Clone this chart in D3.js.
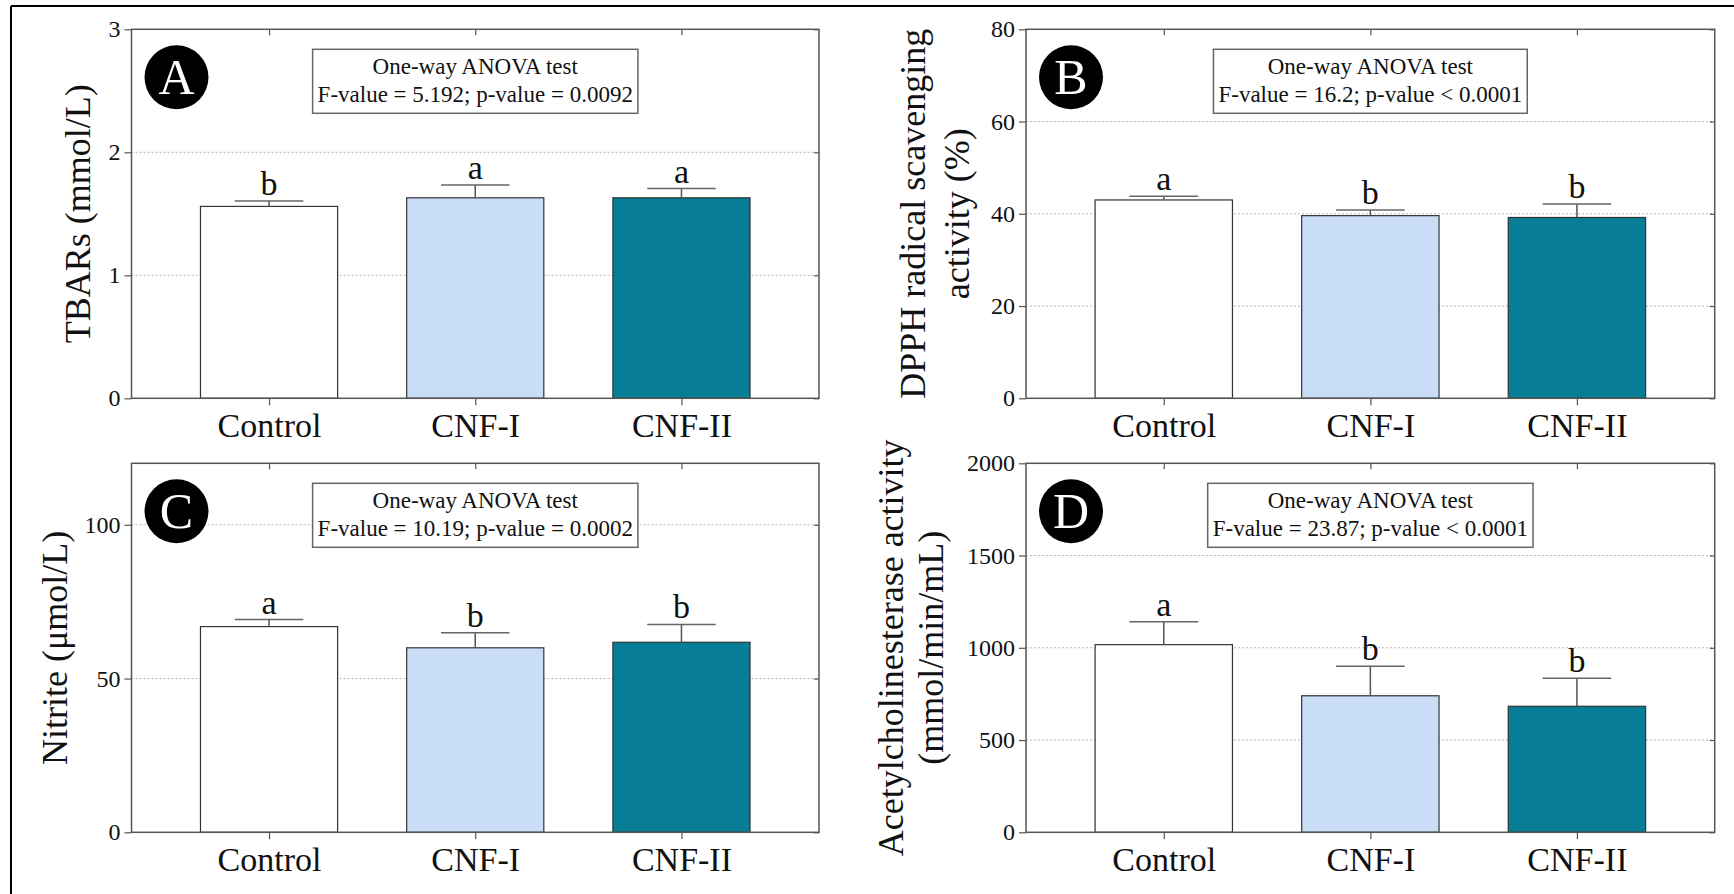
<!DOCTYPE html>
<html>
<head>
<meta charset="utf-8">
<script src="https://cdn.jsdelivr.net/npm/d3@7"></script>
<style>
  body { margin: 0; background: #fff; }
  text { font-family: "Liberation Serif", "DejaVu Serif", serif; fill: #111; }
</style>
</head>
<body>
<script>
// groups on the x axis
const groups = ['Control', 'CNF-I', 'CNF-II'];
const fills = ['#ffffff', '#c9ddf6', '#077d96'];

// panel A - TBARs
const tbarsMean = [1.56, 1.63, 1.63];
const tbarsSd = [0.045, 0.105, 0.075];
const tbarsLetters = ['b', 'a', 'a'];
const tbarsTicks = [0, 1, 2, 3];

// panel B - DPPH
const dpphMean = [43.0, 39.6, 39.2];
const dpphSd = [0.8, 1.2, 2.9];
const dpphLetters = ['a', 'b', 'b'];
const dpphTicks = [0, 20, 40, 60, 80];

// panel C - nitrite
const nitriteMean = [66.9, 60.0, 61.8];
const nitriteSd = [2.3, 4.9, 5.8];
const nitriteLetters = ['a', 'b', 'b'];
const nitriteTicks = [0, 50, 100];

// panel D - AChE
const acheMean = [1017, 740, 683];
const acheSd = [124, 160, 152];
const acheLetters = ['a', 'b', 'b'];
const acheTicks = [0, 500, 1000, 1500, 2000];

const serif = '"Liberation Serif", "DejaVu Serif", serif';

const svg = d3.select('body').append('svg')
    .attr('width', 1734)
    .attr('height', 894);

// outer frame (only top and left edges show in the picture)
svg.append('line').attr('x1', 11).attr('y1', 6).attr('x2', 1734).attr('y2', 6)
    .attr('stroke', '#000').attr('stroke-width', 2);
svg.append('line').attr('x1', 11).attr('y1', 6).attr('x2', 11).attr('y2', 894)
    .attr('stroke', '#000').attr('stroke-width', 2);

const panels = [
    { tag: 'A', mean: tbarsMean, sd: tbarsSd, letters: tbarsLetters, ticks: tbarsTicks, max: 3,
      title: ['TBARs (mmol/L)'], titleX: [42], stat: 'F-value = 5.192; p-value = 0.0092',
      left: 131.5, right: 819, top: 29.3, bottom: 398.3 },
    { tag: 'B', mean: dpphMean, sd: dpphSd, letters: dpphLetters, ticks: dpphTicks, max: 80,
      title: ['DPPH radical scavenging', 'activity (%)'], titleX: [101, 57], stat: 'F-value = 16.2; p-value < 0.0001',
      left: 1026, right: 1714.7, top: 29.3, bottom: 398.3 },
    { tag: 'C', mean: nitriteMean, sd: nitriteSd, letters: nitriteLetters, ticks: nitriteTicks, max: 120,
      title: ['Nitrite (\u03bcmol/L)'], titleX: [65], stat: 'F-value = 10.19; p-value = 0.0002',
      left: 131.5, right: 819, top: 463.3, bottom: 832.3 },
    { tag: 'D', mean: acheMean, sd: acheSd, letters: acheLetters, ticks: acheTicks, max: 2000,
      title: ['Acetylcholinesterase activity', '(mmol/min/mL)'], titleX: [123, 83], stat: 'F-value = 23.87; p-value < 0.0001',
      left: 1026, right: 1714.7, top: 463.3, bottom: 832.3 }
];

panels.forEach(drawPanel);

function drawPanel(p) {
    const g = svg.append('g');
    const x = d3.scalePoint().domain(groups).range([p.left, p.right]).padding(0.667);
    const y = d3.scaleLinear().domain([0, p.max]).range([p.bottom, p.top]);
    const bw = x.step() * 0.665;

    // dotted grid
    g.selectAll('.grid').data(p.ticks.filter(t => t > 0 && t < p.max)).enter()
        .append('line')
        .attr('x1', p.left).attr('x2', p.right)
        .attr('y1', d => y(d)).attr('y2', d => y(d))
        .attr('stroke', '#b5b5b5').attr('stroke-width', 1)
        .attr('stroke-dasharray', '2,2');

    // bars
    g.selectAll('.bar').data(groups).enter()
        .append('rect')
        .attr('x', d => x(d) - bw / 2)
        .attr('y', (d, i) => y(p.mean[i]))
        .attr('width', bw)
        .attr('height', (d, i) => p.bottom - y(p.mean[i]))
        .attr('fill', (d, i) => fills[i])
        .attr('stroke', '#333').attr('stroke-width', 1.2);

    // error bars, upper half only
    groups.forEach((d, i) => {
        const top = y(p.mean[i] + p.sd[i]);
        g.append('line').attr('x1', x(d)).attr('x2', x(d))
            .attr('y1', y(p.mean[i])).attr('y2', top)
            .attr('stroke', '#555').attr('stroke-width', 1.5);
        g.append('line').attr('x1', x(d) - bw / 4).attr('x2', x(d) + bw / 4)
            .attr('y1', top).attr('y2', top)
            .attr('stroke', '#666').attr('stroke-width', 1.5);
        g.append('text').attr('x', x(d)).attr('y', top - 6)
            .attr('text-anchor', 'middle')
            .style('font-size', '34px')
            .text(p.letters[i]);
    });

    // axes
    const yAxis = g.append('g').attr('transform', `translate(${p.left},0)`)
        .call(d3.axisLeft(y).tickValues(p.ticks).tickFormat(d3.format('d')).tickSize(7).tickPadding(4));
    const xAxis = g.append('g').attr('transform', `translate(0,${p.bottom})`)
        .call(d3.axisBottom(x).tickSize(7).tickPadding(8));
    g.append('g').attr('transform', `translate(0,${p.top})`)
        .call(d3.axisTop(x).tickSize(-6).tickFormat(''));
    g.append('g').attr('transform', `translate(${p.right},0)`)
        .call(d3.axisRight(y).tickValues(p.ticks).tickSize(-5).tickFormat(''));
    g.selectAll('.domain').remove();
    g.selectAll('.tick line').attr('stroke', '#555').attr('stroke-width', 1.2);
    yAxis.selectAll('text').style('font-size', '24px').style('fill', '#111')
        .style('font-family', serif);
    xAxis.selectAll('text').style('font-size', '34px').style('fill', '#111')
        .style('font-family', serif);

    // plot frame
    g.append('rect')
        .attr('x', p.left).attr('y', p.top)
        .attr('width', p.right - p.left).attr('height', p.bottom - p.top)
        .attr('fill', 'none').attr('stroke', '#555').attr('stroke-width', 1.5);

    // y title
    const cy = (p.top + p.bottom) / 2;
    p.title.forEach((t, k) => {
        g.append('text')
            .attr('transform', `translate(${p.left - p.titleX[k]},${cy}) rotate(-90)`)
            .attr('text-anchor', 'middle')
            .style('font-size', '36px')
            .text(t);
    });

    // panel letter badge
    const bx = p.left + 45, by = p.top + 48;
    g.append('circle').attr('cx', bx).attr('cy', by).attr('r', 32).attr('fill', '#000');
    g.append('text').attr('x', bx).attr('y', by + 17)
        .attr('text-anchor', 'middle')
        .style('font-size', '50px').style('fill', '#fff')
        .text(p.tag);

    // ANOVA box
    const mid = (p.left + p.right) / 2;
    const box = g.append('rect')
        .attr('y', p.top + 20).attr('height', 64)
        .attr('fill', '#fff').attr('stroke', '#666').attr('stroke-width', 1.5);
    const t1 = g.append('text').attr('x', mid).attr('y', p.top + 45)
        .attr('text-anchor', 'middle').style('font-size', '23px')
        .text('One-way ANOVA test');
    const t2 = g.append('text').attr('x', mid).attr('y', p.top + 73)
        .attr('text-anchor', 'middle').style('font-size', '23px')
        .text(p.stat);
    const w = Math.max(t1.node().getBBox().width, t2.node().getBBox().width) + 10;
    box.attr('x', mid - w / 2).attr('width', w);
}
</script>
</body>
</html>
